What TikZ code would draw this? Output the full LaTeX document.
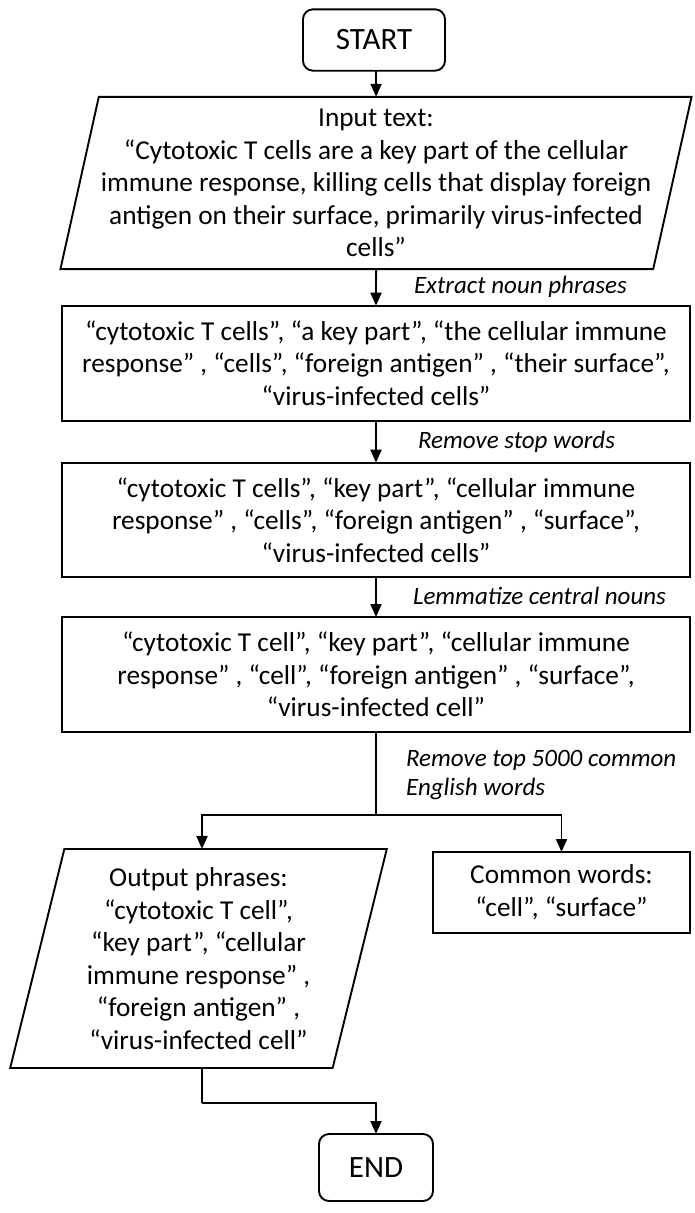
\documentclass[tikz,border=0pt]{standalone}
\usepackage{fontspec}
\setmainfont{Carlito}
\usetikzlibrary{arrows.meta,shapes.geometric}
\begin{document}
\begin{tikzpicture}[x=1pt,y=-1pt,
  every node/.style={inner sep=0pt,outer sep=0pt},
  line/.style={line width=1.9pt,draw=black},
  arr/.style={line width=1.9pt,draw=black,-{Triangle[length=13pt,width=11pt]}},
  body/.style={font=\fontsize{27.3}{32.5}\selectfont,align=center},
  termbox/.style={draw,line width=1.9pt,rounded corners=10pt,font=\fontsize{31}{36}\selectfont},
  procbox/.style={draw,line width=1.9pt,body},
  iobox/.style={draw,line width=1.9pt,body,trapezium,trapezium stretches=true,inner sep=2pt},
  lbl/.style={font=\fontsize{25}{29}\selectfont\itshape,align=left,anchor=west}
]
\useasboundingbox (0,0) rectangle (695,1213);

\node[termbox,minimum width=142pt,minimum height=61.4pt] (start) at (374,40) {START};

\node[iobox,trapezium left angle=75.8,trapezium right angle=104.2,
  minimum width=627.5pt,minimum height=172.3pt] (input) at (376,183) {Input text:\\
“Cytotoxic T cells are a key part of the cellular\\
immune response, killing cells that display foreign\\
antigen on their surface, primarily virus-infected\\
cells”};

\node[procbox,minimum width=628pt,minimum height=115pt] (b1) at (376,363.2) {“cytotoxic T cells”, “a key part”, “the cellular immune\\
response” , “cells”, “foreign antigen” , “their surface”,\\
“virus-infected cells”};

\node[procbox,minimum width=628pt,minimum height=114.3pt] (b2) at (376,519.8) {“cytotoxic T cells”, “key part”, “cellular immune\\
response” , “cells”, “foreign antigen” , “surface”,\\
“virus-infected cells”};

\node[procbox,minimum width=628pt,minimum height=115pt] (b3) at (376,674.5) {“cytotoxic T cell”, “key part”, “cellular immune\\
response” , “cell”, “foreign antigen” , “surface”,\\
“virus-infected cell”};

\node[iobox,trapezium left angle=76.1,trapezium right angle=103.9,
  minimum width=377pt,minimum height=219pt] (out) at (198.5,958.5) {Output phrases:\\
“cytotoxic T cell”,\\
“key part”, “cellular\\
immune response” ,\\
“foreign antigen” ,\\
“virus-infected cell”};

\node[procbox,minimum width=257pt,minimum height=81pt] (common) at (561.5,892.5) {Common words:\\
“cell”, “surface”};

\node[termbox,minimum width=114pt,minimum height=67pt] (end) at (376,1167.5) {END};

\coordinate (split) at (376,815);
\coordinate (bend) at (202,1103);

\draw[arr] (start.south -| input.north) -- (input.north);
\draw[arr] (input.south) -- (b1.north);
\draw[arr] (b1.south) -- (b2.north);
\draw[arr] (b2.south) -- (b3.north);
\draw[line] (b3.south) -- (split);
\draw[arr] (split) -| (out.north -| bend);
\draw[arr] (split) -| (common.north);
\draw[line] (out.south -| bend) -- (bend);
\draw[arr] (bend) -| (end.north);

\node[lbl] (l1) at (414,287) {Extract noun phrases};
\node[lbl] (l2) at (418,442) {Remove stop words};
\node[lbl] (l3) at (413,596) {Lemmatize central nouns};
\node[lbl] (l4) at (406,775) {Remove top 5000 common\\English words};
\end{tikzpicture}
\end{document}
